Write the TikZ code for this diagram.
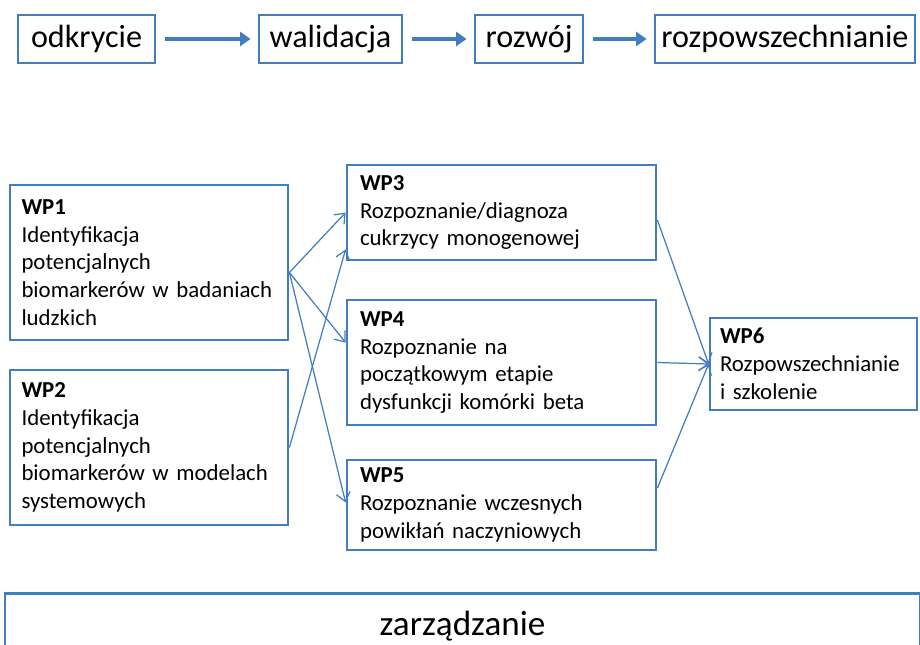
\documentclass[tikz,border=0pt]{standalone}
\usepackage{fontspec}
\setmainfont{Carlito}
\usetikzlibrary{arrows.meta}
\definecolor{ramka}{RGB}{66,126,190}

\begin{document}
\begin{tikzpicture}
	\tikzset{etap/.style={draw=ramka, line width=1.6pt, minimum height=0.96cm, inner sep=0pt, font=\fontsize{18.3}{22}\selectfont},
	pakiet/.style={draw=ramka, line width=1.6pt, inner sep=0pt, align=left, font={\fontsize{13}{15.8}\selectfont\hyphenpenalty 10000\relax}},
	gruba/.style={ramka, line width=2.3pt, -{Triangle[length=6pt, width=8pt]}},
	cienka/.style={ramka, line width=0.7pt, -{Straight Barb[length=5pt, width=8pt]}}};

	\clip (0,0) rectangle (18.4,-12.88);

	% etapy
	\foreach \name/\x/\w/\txt in {odk/1.73/2.74/odkrycie, wal/6.61/2.86/walidacja, roz/10.58/2.16/rozwój, rozp/15.7/5.2/rozpowszechnianie}{
		\node[etap, minimum width=\w cm] (\name) at (\x, -0.78) {\txt};
	}
	\foreach \a/\b in {odk/wal, wal/roz, roz/rozp}{
		\draw[gruba] ([xshift=5pt]\a.east) -- ([xshift=-4pt]\b.west);
	}

	% pakiety
	\node[pakiet, minimum width=5.56cm, minimum height=3.1cm, text width=5.1cm] (wp1) at (2.98, -5.25) {\textbf{WP1}\\Identyfikacja\\potencjalnych\\biomarkerów w badaniach\\ludzkich};
	\node[pakiet, minimum width=5.56cm, minimum height=3.1cm, text width=5.1cm] (wp2) at (2.98, -8.95) {\textbf{WP2}\\Identyfikacja\\potencjalnych\\biomarkerów w modelach\\systemowych};
	\node[pakiet, minimum width=6.18cm, minimum height=1.9cm, text width=5.66cm] (wp3) at (10.03, -4.25) {\textbf{WP3}\\Rozpoznanie/diagnoza\\cukrzycy monogenowej};
	\node[pakiet, minimum width=6.18cm, minimum height=2.5cm, text width=5.66cm] (wp4) at (10.03, -7.25) {\textbf{WP4}\\Rozpoznanie na\\początkowym etapie\\dysfunkcji komórki beta};
	\node[pakiet, minimum width=6.18cm, minimum height=1.8cm, text width=5.66cm] (wp5) at (10.03, -10.1) {\textbf{WP5}\\Rozpoznanie wczesnych\\powikłań naczyniowych};
	\node[pakiet, minimum width=4.14cm, minimum height=1.84cm, text width=3.74cm] (wp6) at (16.27, -7.28) {\textbf{WP6}\\Rozpowszechnianie\\i szkolenie};

	\node[etap, minimum width=18.3cm, minimum height=1.3cm, anchor=north, font=\fontsize{20}{24}\selectfont] (zarz) at (9.25, -11.84) {zarządzanie};

	\draw[cienka] ([yshift=-0.2cm]wp1.east) -- (wp3.west);
	\draw[cienka] ([yshift=-0.2cm]wp1.east) -- ([yshift=0.4cm]wp4.west);
	\draw[cienka] ([yshift=-0.2cm]wp1.east) -- ([yshift=0.05cm]wp5.west);
	\draw[cienka] (wp2.east) -- ([yshift=0.24cm]wp3.south west);

	\draw[cienka] ([yshift=-0.15cm]wp3.east) -- (wp6.west);
	\draw[cienka] (wp4.east) -- (wp6.west);
	\draw[cienka] ([yshift=0.34cm]wp5.east) -- (wp6.west);

\end{tikzpicture}
\end{document}
